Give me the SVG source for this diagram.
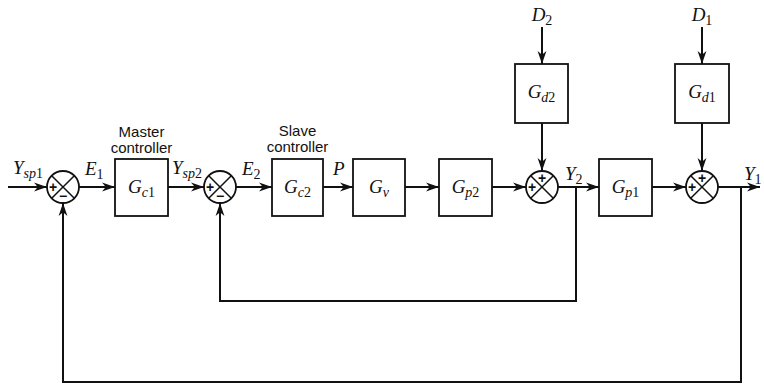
<svg xmlns="http://www.w3.org/2000/svg" width="764" height="386" viewBox="0 0 764 386">
<style>
.bg{fill:#fff}
.box{fill:#fff;stroke:#111;stroke-width:1.8}
.sum{fill:#fff;stroke:#111;stroke-width:1.8}
.x{stroke:#111;stroke-width:1.5}
.ln{fill:none;stroke:#111;stroke-width:2}
.m{font-family:"Liberation Serif",serif;font-style:italic;font-size:19px;fill:#111}
.s{font-size:14px}
.n{font-style:normal}
.t{font-family:"Liberation Sans",Arial,sans-serif;font-size:15px;fill:#111;text-anchor:middle}
.sg{font-family:"Liberation Sans",Arial,sans-serif;font-size:14px;font-weight:bold;fill:#111;text-anchor:middle}
.c{text-anchor:middle}
</style>
<defs>
<marker id="ah" markerUnits="userSpaceOnUse" markerWidth="14" markerHeight="10" refX="13" refY="5" orient="auto">
<path d="M0,0.6 L13,5 L0,9.4 L3.8,5 z" fill="#111"/>
</marker>
</defs>
<rect class="bg" width="764" height="386"/>
<g id="connectors">
<line class="ln" x1="8" y1="187" x2="47" y2="187" marker-end="url(#ah)"/>
<line class="ln" x1="79" y1="187" x2="115" y2="187" marker-end="url(#ah)"/>
<line class="ln" x1="168" y1="187" x2="204" y2="187" marker-end="url(#ah)"/>
<line class="ln" x1="236" y1="187" x2="272" y2="187" marker-end="url(#ah)"/>
<line class="ln" x1="323" y1="187" x2="353" y2="187" marker-end="url(#ah)"/>
<line class="ln" x1="405" y1="187" x2="439" y2="187" marker-end="url(#ah)"/>
<line class="ln" x1="492" y1="187" x2="526" y2="187" marker-end="url(#ah)"/>
<line class="ln" x1="558" y1="187" x2="599" y2="187" marker-end="url(#ah)"/>
<line class="ln" x1="652" y1="187" x2="686" y2="187" marker-end="url(#ah)"/>
<line class="ln" x1="718" y1="187" x2="760" y2="187" marker-end="url(#ah)"/>
<line class="ln" x1="542" y1="27" x2="542" y2="64" marker-end="url(#ah)"/>
<line class="ln" x1="542" y1="123" x2="542" y2="171" marker-end="url(#ah)"/>
<line class="ln" x1="702" y1="27" x2="702" y2="64" marker-end="url(#ah)"/>
<line class="ln" x1="702" y1="123" x2="702" y2="171" marker-end="url(#ah)"/>
<path class="ln" d="M576,187 V301 H220 V203" marker-end="url(#ah)"/>
<path class="ln" d="M741,187 V382 H63 V203" marker-end="url(#ah)"/>
</g>
<g id="sum1">
<circle class="sum" cx="63" cy="187" r="16"/>
<line class="x" x1="51.7" y1="175.7" x2="74.3" y2="198.3"/>
<line class="x" x1="74.3" y1="175.7" x2="51.7" y2="198.3"/>
<text class="sg" x="53" y="192">+</text>
<text class="sg" x="63" y="201">−</text>
</g>
<g id="sum2">
<circle class="sum" cx="220" cy="187" r="16"/>
<line class="x" x1="208.7" y1="175.7" x2="231.3" y2="198.3"/>
<line class="x" x1="231.3" y1="175.7" x2="208.7" y2="198.3"/>
<text class="sg" x="210" y="192">+</text>
<text class="sg" x="220" y="201">−</text>
</g>
<g id="sum3">
<circle class="sum" cx="542" cy="187" r="16"/>
<line class="x" x1="530.7" y1="175.7" x2="553.3" y2="198.3"/>
<line class="x" x1="553.3" y1="175.7" x2="530.7" y2="198.3"/>
<text class="sg" x="542" y="183">+</text>
<text class="sg" x="532" y="192">+</text>
</g>
<g id="sum4">
<circle class="sum" cx="702" cy="187" r="16"/>
<line class="x" x1="690.7" y1="175.7" x2="713.3" y2="198.3"/>
<line class="x" x1="713.3" y1="175.7" x2="690.7" y2="198.3"/>
<text class="sg" x="702" y="183">+</text>
<text class="sg" x="692" y="192">+</text>
</g>
<g id="Gc1">
<rect class="box" x="115" y="159" width="53" height="57"/>
<text class="m c" x="141.5" y="193">G<tspan class="s" dy="4">c</tspan><tspan class="s n">1</tspan></text>
<text class="t" x="141.5" y="137">Master</text>
<text class="t" x="141.5" y="153">controller</text>
</g>
<g id="Gc2">
<rect class="box" x="272" y="159" width="51" height="57"/>
<text class="m c" x="297.5" y="193">G<tspan class="s" dy="4">c</tspan><tspan class="s n">2</tspan></text>
<text class="t" x="297.5" y="136">Slave</text>
<text class="t" x="297.5" y="152">controller</text>
</g>
<g id="Gv">
<rect class="box" x="353" y="159" width="52" height="57"/>
<text class="m c" x="379" y="193">G<tspan class="s" dy="4">v</tspan></text>
</g>
<g id="Gp2">
<rect class="box" x="439" y="159" width="53" height="57"/>
<text class="m c" x="465.5" y="193">G<tspan class="s" dy="4">p</tspan><tspan class="s n">2</tspan></text>
</g>
<g id="Gp1">
<rect class="box" x="599" y="159" width="53" height="57"/>
<text class="m c" x="625.5" y="193">G<tspan class="s" dy="4">p</tspan><tspan class="s n">1</tspan></text>
</g>
<g id="Gd2">
<rect class="box" x="515" y="64" width="53" height="59"/>
<text class="m c" x="541.5" y="98">G<tspan class="s" dy="4">d</tspan><tspan class="s n">2</tspan></text>
</g>
<g id="Gd1">
<rect class="box" x="675" y="64" width="54" height="59"/>
<text class="m c" x="702" y="98">G<tspan class="s" dy="4">d</tspan><tspan class="s n">1</tspan></text>
</g>
<g id="labels">
<text class="m" x="13" y="174">Y<tspan class="s" dy="4">sp</tspan><tspan class="s n">1</tspan></text>
<text class="m" x="85" y="175">E<tspan class="s n" dy="4">1</tspan></text>
<text class="m" x="172" y="174">Y<tspan class="s" dy="4">sp</tspan><tspan class="s n">2</tspan></text>
<text class="m" x="242" y="175">E<tspan class="s n" dy="4">2</tspan></text>
<text class="m" x="333" y="175">P</text>
<text class="m" x="565" y="180">Y<tspan class="s n" dy="4">2</tspan></text>
<text class="m" x="744" y="180">Y<tspan class="s n" dy="4">1</tspan></text>
<text class="m c" x="542" y="21">D<tspan class="s n" dy="4">2</tspan></text>
<text class="m c" x="702" y="21">D<tspan class="s n" dy="4">1</tspan></text>
</g>
</svg>
